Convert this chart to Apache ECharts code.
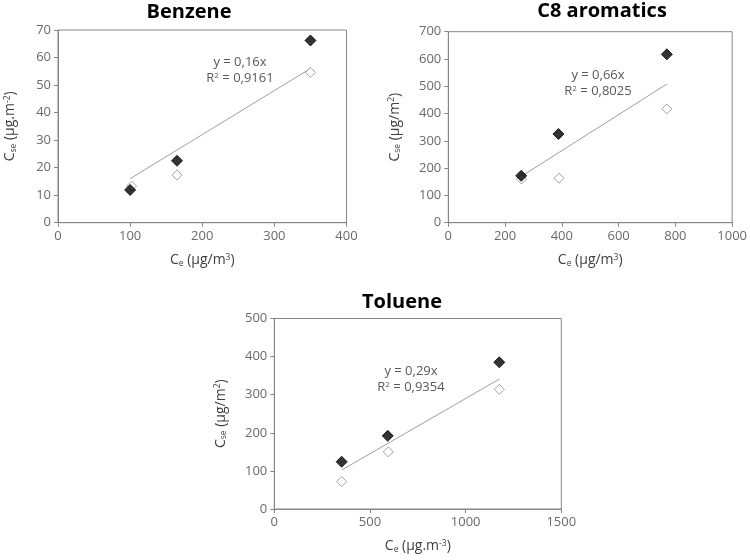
<!DOCTYPE html>
<html>
<head>
<meta charset="utf-8">
<script src="https://cdn.jsdelivr.net/npm/echarts@6/dist/echarts.min.js"></script>
<style>html,body{margin:0;padding:0;background:#fff}#c{width:750px;height:560px}</style>
</head>
<body>
<div id="c"></div>
<script>
// ---- data ----
const titles = ['Benzene', 'C8 aromatics', 'Toluene'];
const benzeneFilledX = [100, 165, 350];
const benzeneFilledY = [11.9, 22.5, 66.2];
const benzeneOpenX = [102, 165, 350];
const benzeneOpenY = [13.3, 17.3, 54.6];
const c8FilledX = [257, 388, 770];
const c8FilledY = [172, 325, 617];
const c8OpenX = [258, 390, 770];
const c8OpenY = [160, 163, 417];
const tolFilledX = [352, 593, 1176];
const tolFilledY = [124, 192, 385];
const tolOpenX = [352, 596, 1176];
const tolOpenY = [72, 150, 314];
const slopes = [0.16, 0.66, 0.29];
const r2 = ['0,9161', '0,8025', '0,9354'];
const xMax = [400, 1000, 1500];
const yMax = [70, 700, 500];
const xInterval = [100, 200, 500];
const yInterval = [10, 100, 100];

const FONT = '"Open Sans", sans-serif';
const grids = [
  {left: 58, top: 30, width: 288.5, height: 192.7},
  {left: 448.3, top: 31.7, width: 287.7, height: 191},
  {left: 274.3, top: 318.5, width: 287, height: 190.5}
];
const filledX = [benzeneFilledX, c8FilledX, tolFilledX];
const filledY = [benzeneFilledY, c8FilledY, tolFilledY];
const openX = [benzeneOpenX, c8OpenX, tolOpenX];
const openY = [benzeneOpenY, c8OpenY, tolOpenY];

const NAMECOL = '#404040';
const rich = {
  a: {fontSize: 14, color: NAMECOL, fontFamily: FONT},
  sub: {fontSize: 8.5, color: NAMECOL, fontFamily: FONT, verticalAlign: 'bottom', padding: [6, 0, 0, 0]},
  sup: {fontSize: 8.5, color: NAMECOL, fontFamily: FONT, verticalAlign: 'top', padding: [0, 0, 6, 0]}
};
const yNames = [
  '{a|C}{sub|se}{a| (µg.m}{sup|-2}{a|)}',
  '{a|C}{sub|se}{a| (µg/m}{sup|2}{a|)}',
  '{a|C}{sub|se}{a| (µg/m}{sup|2}{a|)}'
];
const xNames = [
  '{a|C}{sub|e}{a| (µg/m}{sup|3}{a|)}',
  '{a|C}{sub|e}{a| (µg/m}{sup|3}{a|)}',
  '{a|C}{sub|e}{a| (µg.m}{sup|-3}{a|)}'
];
const yNameGap = [40, 46, 46];

const xAxes = [], yAxes = [], series = [];
for (let i = 0; i < 3; i++) {
  xAxes.push({
    type: 'value', gridIndex: i, min: 0, max: xMax[i], interval: xInterval[i],
    name: xNames[i], nameLocation: 'middle', nameGap: 30,
    nameTextStyle: {rich: rich},
    axisLine: {show: true, lineStyle: {color: '#868686', width: 1}},
    axisTick: {show: true, length: 4, lineStyle: {color: '#868686'}},
    axisLabel: {color: '#6a6a6a', fontSize: 13, fontFamily: FONT, margin: 7, formatter: v => String(v)},
    splitLine: {show: false}
  });
  yAxes.push({
    type: 'value', gridIndex: i, min: 0, max: yMax[i], interval: yInterval[i],
    name: yNames[i], nameLocation: 'middle', nameGap: yNameGap[i], nameRotate: 90,
    nameTextStyle: {rich: rich},
    axisLine: {show: true, lineStyle: {color: '#868686', width: 1}},
    axisTick: {show: true, length: 4, lineStyle: {color: '#868686'}},
    axisLabel: {color: '#6a6a6a', fontSize: 13, fontFamily: FONT, margin: 7, formatter: v => String(v)},
    splitLine: {show: false}
  });
  const fx = filledX[i], ox = openX[i];
  const x0 = Math.min(...fx), x1 = Math.max(...fx);
  series.push({
    type: 'line', xAxisIndex: i, yAxisIndex: i, showSymbol: false, symbol: 'none',
    lineStyle: {color: '#a0a0a0', width: 1}, silent: true, z: 1,
    data: [[x0, slopes[i] * x0], [x1, slopes[i] * x1]]
  });
  series.push({
    type: 'scatter', xAxisIndex: i, yAxisIndex: i, symbol: 'diamond', symbolSize: 10,
    itemStyle: {color: '#ffffff', borderColor: '#8c8c8c', borderWidth: 1}, z: 2,
    data: ox.map((x, k) => [x, openY[i][k]])
  });
  series.push({
    type: 'scatter', xAxisIndex: i, yAxisIndex: i, symbol: 'diamond', symbolSize: 11,
    itemStyle: {color: '#000000', borderColor: '#000000', borderWidth: 1}, z: 3,
    data: fx.map((x, k) => [x, filledY[i][k]])
  });
}

const titlePos = [[189, 12], [602, 11], [402, 302]];
const eqPos = [[240, 62], [598, 75], [411, 371]];
const graphic = [];
for (let i = 0; i < 3; i++) {
  graphic.push({
    type: 'text', x: titlePos[i][0], y: titlePos[i][1],
    style: {text: titles[i], font: 'bold 20px ' + FONT, fill: '#000', textAlign: 'center', textVerticalAlign: 'middle'}
  });
  graphic.push({
    type: 'text', x: eqPos[i][0], y: eqPos[i][1],
    style: {text: 'y = ' + String(slopes[i]).replace('.', ',') + 'x', font: '13px ' + FONT, fill: '#595959', textAlign: 'center', textVerticalAlign: 'middle'}
  });
  graphic.push({
    type: 'text', x: eqPos[i][0], y: eqPos[i][1] + 16.5,
    style: {
      text: '{a|R}{s|2}{a| = ' + r2[i] + '}',
      rich: {a: {fontSize: 13, fill: '#595959', fontFamily: FONT}, s: {fontSize: 8, fill: '#595959', fontFamily: FONT, verticalAlign: 'top', padding: [0, 0, 6, 0]}},
      textAlign: 'center', textVerticalAlign: 'middle'
    }
  });
}

const chart = echarts.init(document.getElementById('c'), null, {renderer: 'canvas'});
chart.setOption({
  animation: false,
  backgroundColor: '#ffffff',
  grid: grids.map(g => Object.assign({show: true, borderColor: '#868686', borderWidth: 1, backgroundColor: 'transparent'}, g)),
  xAxis: xAxes,
  yAxis: yAxes,
  series: series,
  graphic: graphic
});
</script>
</body>
</html>
